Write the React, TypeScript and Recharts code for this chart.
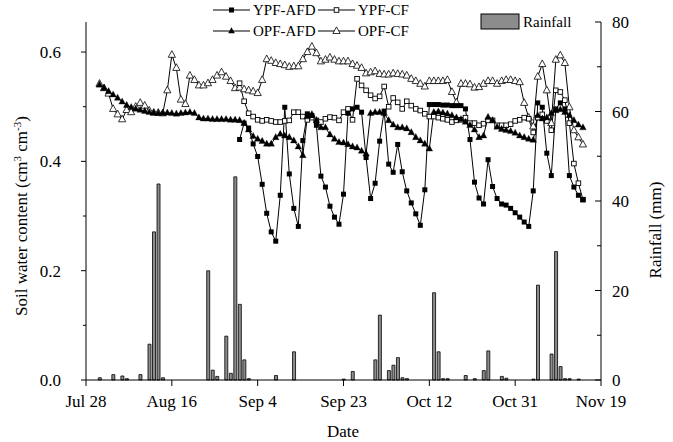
import React from 'react';
import { ComposedChart, Bar, Line, XAxis, YAxis } from 'recharts';

// x axis is days since Jul 28
const dateTicks = [0, 19, 38, 57, 76, 95, 114];
const dateLabels = ['Jul 28', 'Aug 16', 'Sep 4', 'Sep 23', 'Oct 12', 'Oct 31', 'Nov 19'];
const swcTicks = [0, 0.1, 0.2, 0.3, 0.4, 0.5, 0.6];
const rainTicks = [0, 10, 20, 30, 40, 50, 60, 70, 80];

// OPF plots measured daily from Jul 31, YPF plots from Aug 31
const opfStart = 3;
const ypfStart = 34;

const opfAfd = [
  0.540, 0.534, 0.528, 0.522, 0.516, 0.509, 0.503, 0.499, 0.496, 0.494,
  0.492, 0.490, 0.489, 0.488, 0.488, 0.489, 0.488, 0.487, 0.488, 0.489,
  0.490, 0.488, 0.480, 0.478, 0.478, 0.477, 0.477, 0.477, 0.477, 0.476,
  0.476, 0.475, 0.470, 0.458, 0.446, 0.441, 0.437, 0.432, 0.432, 0.444,
  0.450, 0.447, 0.444, 0.438, 0.427, 0.411, 0.482, 0.486, 0.475, 0.462,
  0.462, 0.449, 0.441, 0.435, 0.434, 0.431, 0.427, 0.425, 0.419, 0.414,
  0.488, 0.490, 0.490, 0.488, 0.475, 0.467, 0.462, 0.462, 0.460, 0.453,
  0.444, 0.438, 0.432, 0.423, 0.490, 0.491, 0.489, 0.487, 0.484, 0.480,
  0.477, 0.472, 0.466, 0.458, 0.444, 0.447, 0.481, 0.475, 0.463, 0.459,
  0.457, 0.455, 0.452, 0.447, 0.444, 0.441, 0.439, 0.484, 0.478, 0.480,
  0.488, 0.493, 0.495, 0.490, 0.484, 0.475, 0.467, 0.462,
];

const opfCf = [
  0.542, 0.534, 0.524, 0.496, 0.486, 0.477, 0.494, 0.490, 0.500, 0.507,
  0.502, 0.493, 0.489, 0.489, 0.488, 0.530, 0.595, 0.571, 0.513, 0.505,
  0.557, 0.549, 0.539, 0.539, 0.543, 0.549, 0.557, 0.563, 0.555, 0.547,
  0.534, 0.535, 0.532, 0.530, 0.528, 0.525, 0.549, 0.587, 0.584, 0.580,
  0.578, 0.576, 0.573, 0.574, 0.574, 0.587, 0.600, 0.610, 0.598, 0.583,
  0.586, 0.590, 0.586, 0.583, 0.583, 0.583, 0.578, 0.575, 0.571, 0.561,
  0.563, 0.565, 0.560, 0.559, 0.559, 0.561, 0.560, 0.559, 0.557, 0.551,
  0.547, 0.542, 0.537, 0.547, 0.547, 0.547, 0.547, 0.549, 0.527, 0.508,
  0.542, 0.542, 0.541, 0.535, 0.536, 0.542, 0.547, 0.547, 0.542, 0.547,
  0.549, 0.549, 0.547, 0.545, 0.507, 0.480, 0.464, 0.555, 0.578, 0.530,
  0.470, 0.586, 0.594, 0.580, 0.499, 0.457, 0.444, 0.431,
];

const ypfAfd = [
  0.440, 0.470, 0.461, 0.432, 0.409, 0.358, 0.305, 0.271, 0.254, 0.338,
  0.499, 0.377, 0.314, 0.281, 0.438, 0.487, 0.484, 0.466, 0.373, 0.353,
  0.318, 0.298, 0.285, 0.340, 0.488, 0.496, 0.499, 0.490, 0.407, 0.332,
  0.360, 0.437, 0.492, 0.395, 0.380, 0.431, 0.381, 0.346, 0.324, 0.304,
  0.283, 0.348, 0.504, 0.504, 0.504, 0.503, 0.503, 0.502, 0.502, 0.502,
  0.496, 0.440, 0.362, 0.333, 0.322, 0.403, 0.354, 0.332, 0.322, 0.320,
  0.314, 0.306, 0.298, 0.289, 0.281, 0.346, 0.507, 0.499, 0.415, 0.374,
  0.496, 0.507, 0.496, 0.374, 0.353, 0.338, 0.330,
];

const ypfCf = [
  0.543, 0.510, 0.488, 0.482, 0.476, 0.474, 0.476, 0.474, 0.472, 0.472,
  0.474, 0.475, 0.490, 0.490, 0.482, 0.476, 0.480, 0.475, 0.472, 0.478,
  0.481, 0.480, 0.475, 0.490, 0.496, 0.476, 0.551, 0.539, 0.530, 0.521,
  0.515, 0.519, 0.537, 0.500, 0.516, 0.508, 0.496, 0.510, 0.502, 0.496,
  0.493, 0.487, 0.482, 0.482, 0.480, 0.478, 0.476, 0.472, 0.475, 0.476,
  0.480, 0.470, 0.470, 0.466, 0.469, 0.475, 0.475, 0.466, 0.466, 0.466,
  0.468, 0.474, 0.476, 0.480, 0.478, 0.453, 0.480, 0.486, 0.474, 0.457,
  0.530, 0.527, 0.512, 0.470, 0.396, 0.360, 0.330,
];

const rainDays = [
  3, 6, 8, 9, 12, 14, 15, 16, 17, 27, 28, 29, 31, 32, 33, 34, 35, 36, 42, 46,
  57, 59, 64, 65, 67, 68, 69, 70, 71, 77, 78, 79, 80, 84, 86, 88, 89, 92, 93, 99,
  100, 103, 104, 105, 106, 107, 109,
];
const rainMm = [
  0.5, 1.2, 0.9, 0.3, 1.2, 8.0, 33.1, 43.8, 0.5, 24.4, 2.2, 0.8, 9.8, 1.5, 45.4, 16.9, 4.5, 0.3, 1.0, 6.3,
  0.2, 1.9, 4.5, 14.5, 2.1, 3.3, 5.0, 0.5, 0.3, 19.5, 6.3, 0.3, 0.3, 1.0, 0.3, 2.1, 6.5, 0.8, 0.4, 0.2,
  21.2, 5.8, 28.7, 3.0, 0.3, 0.3, 0.2,
];

const lastDay = 114;

const rows: any[] = [];
for (let d = 0; d <= lastDay; d++) {
  const ri = rainDays.indexOf(d);
  rows.push({
    day: d,
    rain: ri >= 0 ? rainMm[ri] : null,
    opfAfd: opfAfd[d - opfStart] ?? null,
    opfCf: opfCf[d - opfStart] ?? null,
    ypfAfd: ypfAfd[d - ypfStart] ?? null,
    ypfCf: ypfCf[d - ypfStart] ?? null,
  });
}

const W = 673;
const H = 442;
const PLOT_L = 86;
const PLOT_R = 601;
const PLOT_B = 380;
const FONT = "'Liberation Serif', 'DejaVu Serif', serif";
const txt = { fontFamily: FONT };

const squareDot = (filled: boolean) => (p: any) => {
  const { cx, cy, index, value } = p;
  if (value == null || cy == null) return <g key={index} />;
  const s = filled ? 5 : 4.6;
  return (
    <rect
      key={index}
      x={cx - s / 2}
      y={cy - s / 2}
      width={s}
      height={s}
      fill={filled ? '#000' : '#fff'}
      stroke="#000"
      strokeWidth={filled ? 0 : 0.9}
    />
  );
};

const triangleDot = (filled: boolean) => (p: any) => {
  const { cx, cy, index, value } = p;
  if (value == null || cy == null) return <g key={index} />;
  const r = filled ? 3.3 : 3.6;
  const pts = `${cx},${cy - r * 1.15} ${cx + r},${cy + r * 0.7} ${cx - r},${cy + r * 0.7}`;
  return (
    <polygon
      key={index}
      points={pts}
      fill={filled ? '#000' : '#fff'}
      stroke="#000"
      strokeWidth={filled ? 0.3 : 0.8}
    />
  );
};

const DateTick = (props: any) => {
  const { x, payload } = props;
  const i = dateTicks.indexOf(payload.value);
  return (
    <g>
      <line x1={x} x2={x} y1={PLOT_B} y2={PLOT_B + 6} stroke="#000" />
      <text x={x} y={PLOT_B + 27} textAnchor="middle" style={txt} fontSize={17} fill="#000">
        {dateLabels[i]}
      </text>
    </g>
  );
};

const SwcTick = (props: any) => {
  const { y, payload } = props;
  const major = Math.round(payload.value * 10) % 2 === 0;
  return (
    <g>
      <line x1={PLOT_L - (major ? 5 : 3)} x2={PLOT_L} y1={y} y2={y} stroke="#000" />
      {major && (
        <text x={PLOT_L - 25} y={y + 6} textAnchor="end" style={txt} fontSize={17} fill="#000">
          {payload.value.toFixed(1)}
        </text>
      )}
    </g>
  );
};

const RainTick = (props: any) => {
  const { y, payload } = props;
  const major = payload.value % 20 === 0;
  return (
    <g>
      <line x1={PLOT_R - (major ? 6 : 4)} x2={PLOT_R} y1={y} y2={y} stroke="#000" />
      {major && (
        <text x={PLOT_R + 11} y={y + 6} textAnchor="start" style={txt} fontSize={17} fill="#000">
          {payload.value}
        </text>
      )}
    </g>
  );
};

const Overlay = () => (
  <svg
    width={W}
    height={H}
    style={{ position: 'absolute', left: 0, top: 0, pointerEvents: 'none', fontFamily: FONT }}
    fill="#000"
  >
    {/* legend */}
    <line x1={213} x2={250} y1={10} y2={10} stroke="#000" />
    <rect x={229} y={7.5} width={5} height={5} fill="#000" />
    <text x={253} y={15} fontSize={15} style={txt}>YPF-AFD</text>
    <line x1={318} x2={355} y1={10} y2={10} stroke="#000" />
    <rect x={334.2} y={7.7} width={4.6} height={4.6} fill="#fff" stroke="#000" strokeWidth={0.9} />
    <text x={358} y={15} fontSize={15} style={txt}>YPF-CF</text>

    <line x1={213} x2={250} y1={31} y2={31} stroke="#000" />
    <polygon points="231.5,27.2 234.8,33.3 228.2,33.3" fill="#000" />
    <text x={253} y={36} fontSize={15} style={txt}>OPF-AFD</text>
    <line x1={318} x2={355} y1={31} y2={31} stroke="#000" />
    <polygon points="336.5,26.9 340.1,33.5 332.9,33.5" fill="#fff" stroke="#000" strokeWidth={0.8} />
    <text x={358} y={36} fontSize={15} style={txt}>OPF-CF</text>

    <rect x={481} y={14} width={38} height={15} fill="#8c8c8c" stroke="#000" strokeWidth={1} />
    <text x={523} y={27} fontSize={15} style={txt}>Rainfall</text>

    {/* axis titles */}
    <text x={343} y={437} textAnchor="middle" fontSize={17} style={txt}>Date</text>
    <text transform="translate(27,216) rotate(-90)" textAnchor="middle" fontSize={17} style={txt}>
      Soil water content (cm
      <tspan dy={-6} fontSize={11}>3</tspan>
      <tspan dy={6}> cm</tspan>
      <tspan dy={-6} fontSize={11}>-3</tspan>
      <tspan dy={6}>)</tspan>
    </text>
    <text transform="translate(661,230) rotate(-90)" textAnchor="middle" fontSize={17} style={txt}>
      Rainfall (mm)
    </text>
  </svg>
);

export default function App() {
  return (
    <div style={{ position: 'absolute', left: 0, top: 0, width: W, height: H, background: '#fff', fontFamily: FONT }}>
      <ComposedChart width={W} height={H} data={rows} margin={{ top: 22, right: 0, bottom: 0, left: 0 }}>
        <XAxis
          dataKey="day"
          type="number"
          domain={[0, lastDay]}
          ticks={dateTicks}
          interval={0}
          height={62}
          axisLine={{ stroke: '#000' }}
          tickLine={false}
          tick={<DateTick />}
        />
        <YAxis
          yAxisId="swc"
          orientation="left"
          width={86}
          domain={[0, 0.655]}
          ticks={swcTicks}
          interval={0}
          axisLine={{ stroke: '#000' }}
          tickLine={false}
          tick={<SwcTick />}
        />
        <YAxis
          yAxisId="rain"
          orientation="right"
          width={72}
          domain={[0, 80]}
          ticks={rainTicks}
          interval={0}
          axisLine={{ stroke: '#000' }}
          tickLine={false}
          tick={<RainTick />}
        />
        <Bar
          yAxisId="rain"
          dataKey="rain"
          barSize={3}
          fill="#8c8c8c"
          stroke="#000"
          strokeWidth={0.8}
          isAnimationActive={false}
        />
        <Line
          yAxisId="swc"
          dataKey="opfCf"
          stroke="#000"
          strokeWidth={1}
          dot={triangleDot(false)}
          isAnimationActive={false}
        />
        <Line
          yAxisId="swc"
          dataKey="ypfCf"
          stroke="#000"
          strokeWidth={1}
          dot={squareDot(false)}
          isAnimationActive={false}
        />
        <Line
          yAxisId="swc"
          dataKey="opfAfd"
          stroke="#000"
          strokeWidth={1}
          dot={triangleDot(true)}
          isAnimationActive={false}
        />
        <Line
          yAxisId="swc"
          dataKey="ypfAfd"
          stroke="#000"
          strokeWidth={1}
          dot={squareDot(true)}
          isAnimationActive={false}
        />
      </ComposedChart>
      <Overlay />
    </div>
  );
}
